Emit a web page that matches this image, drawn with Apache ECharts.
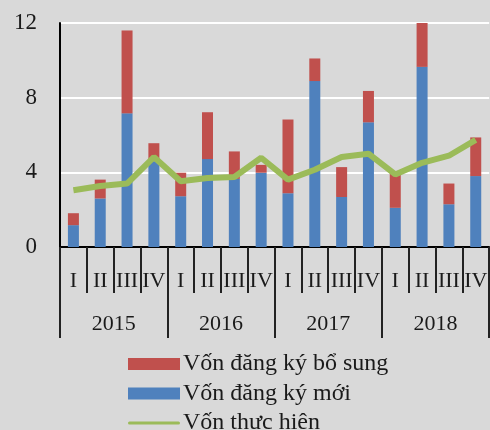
<!DOCTYPE html>
<html>
<head>
<meta charset="utf-8">
<script src="https://cdn.jsdelivr.net/npm/echarts@6/dist/echarts.min.js"></script>
<style>
  html, body { margin: 0; padding: 0; background: #d9d9d9; }
  #chart { width: 490px; height: 430px; }
</style>
</head>
<body>
<div id="chart"></div>
<script>
  // quý và năm
  const quarters = ['I', 'II', 'III', 'IV', 'I', 'II', 'III', 'IV', 'I', 'II', 'III', 'IV', 'I', 'II', 'III', 'IV'];
  const years = ['2015', '2016', '2017', '2018'];
  const yTicks = [0, 4, 8, 12];

  // Vốn đăng ký mới
  const newCapital = [1.17, 2.6, 7.16, 4.6, 2.72, 4.71, 3.65, 3.98, 2.88, 8.89, 2.68, 6.68, 2.1, 9.65, 2.29, 3.8];
  // Vốn đăng ký bổ sung
  const extraCapital = [0.64, 1.01, 4.44, 0.96, 1.26, 2.51, 1.47, 0.42, 3.95, 1.21, 1.6, 1.68, 1.85, 2.35, 1.11, 2.07];
  // Vốn thực hiện
  const realized = [3.04, 3.27, 3.4, 4.82, 3.52, 3.7, 3.75, 4.78, 3.61, 4.14, 4.82, 5.0, 3.89, 4.51, 4.89, 5.74];

  const font = 'Liberation Serif';
  const ink = '#1a1a1a';

  const chart = echarts.init(document.getElementById('chart'));
  chart.setOption({
    backgroundColor: '#d9d9d9',
    animation: false,
    textStyle: { fontFamily: font, color: ink },
    grid: { left: 60, top: 23, width: 440, height: 224, containLabel: false },
    legend: {
      orient: 'vertical',
      left: 123,
      top: 347,
      height: 120,
      itemWidth: 52,
      itemHeight: 12,
      itemGap: 5.5,
      textStyle: { fontFamily: font, fontSize: 24, lineHeight: 22, color: ink, padding: [0, 0, 0, -2] },
      data: [
        { name: 'Vốn đăng ký bổ sung', icon: 'rect' },
        { name: 'Vốn đăng ký mới', icon: 'rect' },
        { name: 'Vốn thực hiện', icon: 'path://M3,0 L101,0 A3,3 0 0 1 101,6 L3,6 A3,3 0 0 1 3,0 Z' }
      ]
    },
    xAxis: [
      {
        type: 'category',
        data: quarters,
        position: 'bottom',
        axisLine: { lineStyle: { color: '#000', width: 2 } },
        axisTick: { show: true, interval: 0, length: 46, lineStyle: { color: '#222', width: 2 } },
        axisLabel: { interval: 0, margin: 23, fontFamily: font, fontSize: 22, color: ink }
      },
      {
        type: 'category',
        data: years,
        position: 'bottom',
        axisLine: { show: false },
        axisTick: { show: true, interval: 0, length: 91, lineStyle: { color: '#222', width: 2 } },
        axisLabel: { interval: 0, margin: 66, fontFamily: font, fontSize: 22, color: ink }
      }
    ],
    yAxis: {
      type: 'value',
      min: yTicks[0],
      max: yTicks[yTicks.length - 1],
      interval: 4,
      axisLine: { show: true, lineStyle: { color: '#000', width: 2 } },
      axisTick: { show: false },
      axisLabel: { margin: 23, fontFamily: font, fontSize: 23, color: ink },
      splitLine: { lineStyle: { color: '#ffffff', width: 2 } }
    },
    series: [
      {
        name: 'Vốn đăng ký mới',
        type: 'bar',
        stack: 'von',
        barWidth: 11,
        itemStyle: { color: '#4f81bd' },
        data: newCapital
      },
      {
        name: 'Vốn đăng ký bổ sung',
        type: 'bar',
        stack: 'von',
        barWidth: 11,
        itemStyle: { color: '#c0504d' },
        data: extraCapital
      },
      {
        name: 'Vốn thực hiện',
        type: 'line',
        showSymbol: false,
        symbol: 'none',
        z: 5,
        lineStyle: { color: '#9bbb59', width: 6 },
        itemStyle: { color: '#9bbb59' },
        data: realized
      }
    ]
  });
</script>
</body>
</html>
